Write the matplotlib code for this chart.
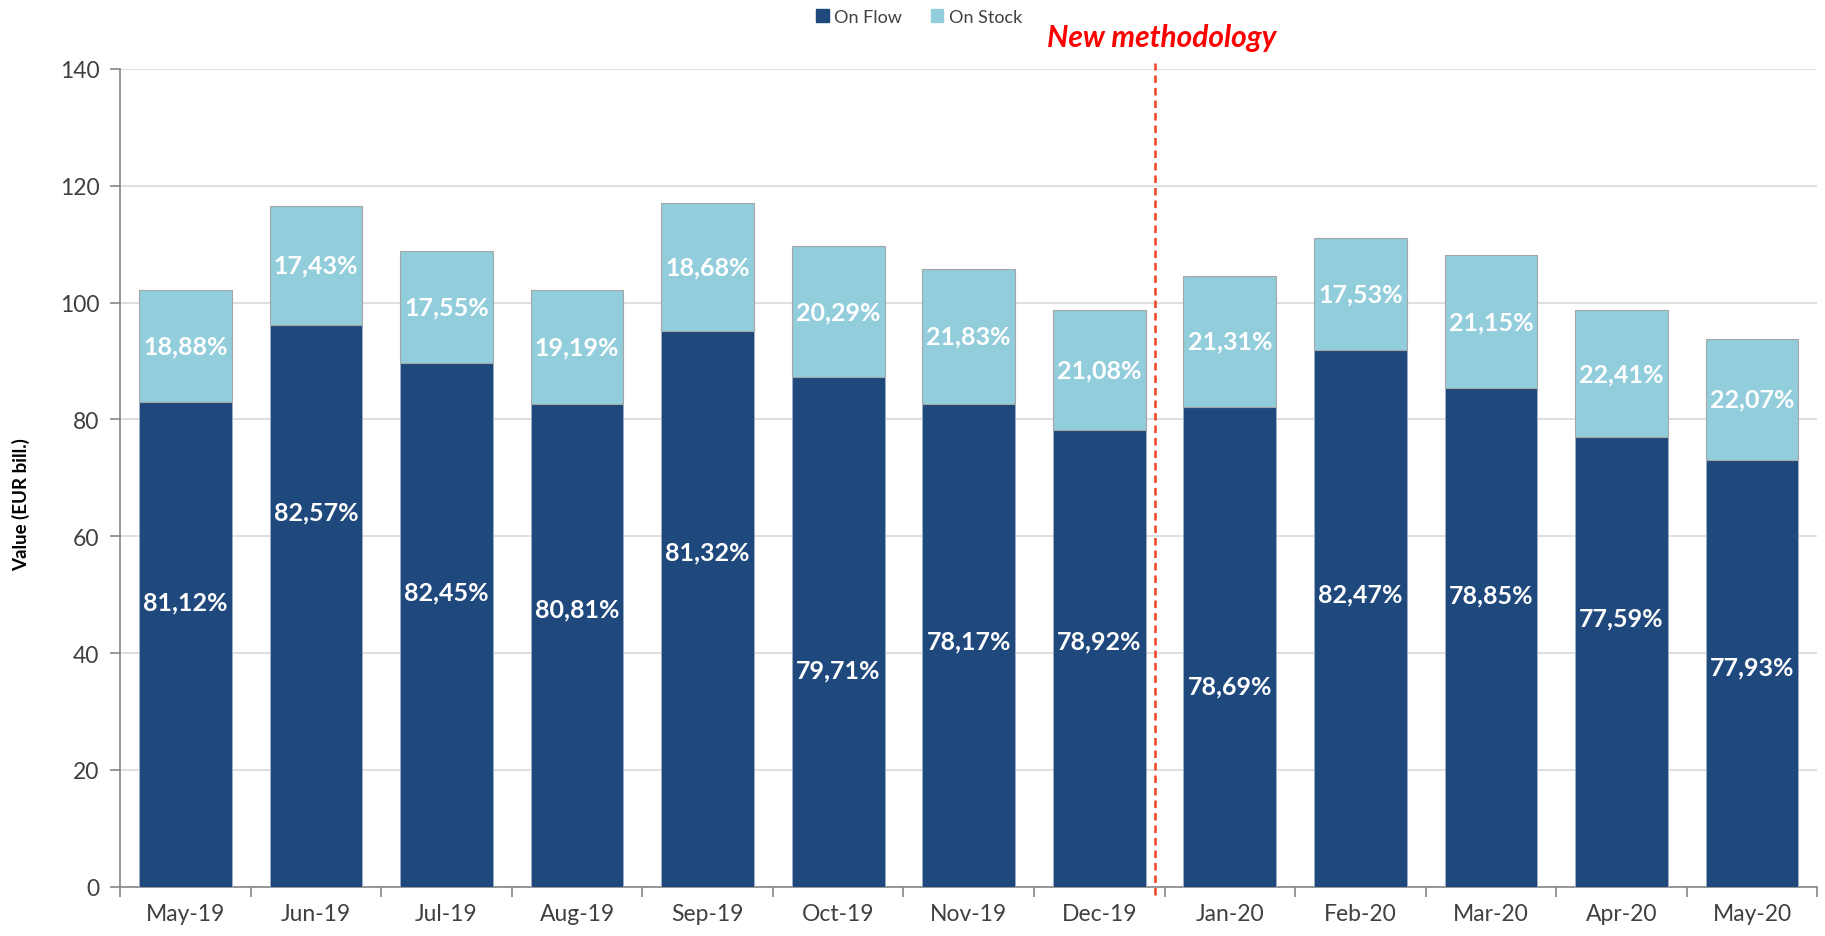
import matplotlib
matplotlib.use("Agg")
import matplotlib.pyplot as plt
from matplotlib.patches import Patch
import numpy as np

# ---- data ----
months = ["May-19", "Jun-19", "Jul-19", "Aug-19", "Sep-19", "Oct-19", "Nov-19",
          "Dec-19", "Jan-20", "Feb-20", "Mar-20", "Apr-20", "May-20"]
on_flow = [82.9, 96.2, 89.6, 82.7, 95.2, 87.3, 82.7, 78.1, 82.1, 91.8, 85.3, 76.9, 73.1]
on_total = [102.2, 116.5, 108.8, 102.2, 117.1, 109.6, 105.8, 98.8, 104.6, 111.0, 108.2, 98.8, 93.8]
on_stock = [t - f for t, f in zip(on_total, on_flow)]
flow_pct = ["81,12%", "82,57%", "82,45%", "80,81%", "81,32%", "79,71%", "78,17%",
            "78,92%", "78,69%", "82,47%", "78,85%", "77,59%", "77,93%"]
stock_pct = ["18,88%", "17,43%", "17,55%", "19,19%", "18,68%", "20,29%", "21,83%",
             "21,08%", "21,31%", "17,53%", "21,15%", "22,41%", "22,07%"]
# placement of the flow labels (as placed in the original chart)
flow_label_y = [48.8, 64.1, 50.4, 47.6, 57.4, 37.1, 42.0, 42.0, 34.3, 50.2, 50.0, 46.0, 37.6]

DARK = "#1F497D"
LIGHT = "#92CDDC"
TXT = "#404040"
FONT = "Lato"

fig = plt.figure(figsize=(18.25, 9.37), dpi=100)
ax = fig.add_axes([0.0658, 0.0525, 0.930, 0.873])

x = np.arange(len(months))
w = 0.71
ax.bar(x, on_flow, width=w, color=DARK, edgecolor="#9FB0C4", linewidth=0.6, zorder=3)
ax.bar(x, on_stock, bottom=on_flow, width=w, color=LIGHT, edgecolor="#A6A6A6",
       linewidth=0.8, zorder=3)

for i in range(len(months)):
    ax.text(x[i], flow_label_y[i], flow_pct[i], ha="center", va="center", color="white",
            fontsize=18, fontweight="bold", family=FONT, zorder=4)
    ax.text(x[i], on_flow[i] + on_stock[i] / 2, stock_pct[i], ha="center", va="center",
            color="white", fontsize=18, fontweight="bold", family=FONT, zorder=4)

ax.set_xlim(-0.5, len(months) - 0.5)
ax.set_ylim(0, 140)
ax.set_yticks(np.arange(0, 141, 20))
ax.yaxis.grid(True, color="#D9D9D9", linewidth=1.2, zorder=0)
ax.set_axisbelow(True)
for s in ["top", "right"]:
    ax.spines[s].set_visible(False)
for s in ["left", "bottom"]:
    ax.spines[s].set_color("#868686")
    ax.spines[s].set_linewidth(1.2)

ax.set_xticks(np.arange(-0.5, len(months), 1.0))
ax.set_xticklabels([])
ax.set_xticks(x, minor=True)
ax.set_xticklabels(months, minor=True, fontsize=16.5, color=TXT, family=FONT)
ax.tick_params(axis="x", which="major", length=7, color="#868686", width=1.2)
ax.tick_params(axis="x", which="minor", length=0, pad=12)
ax.tick_params(axis="y", length=7, color="#868686", width=1.2, labelsize=16.5,
               labelcolor=TXT, pad=8)
for lab in ax.get_yticklabels():
    lab.set_family(FONT)

ax.set_ylabel("Value (EUR bill.)", fontsize=13.5, fontweight="bold", family=FONT,
              color="black")
ax.yaxis.set_label_coords(-0.053, 0.469)

# methodology divider
xv = 7.43
ax.plot([xv, xv], [-1.4, 141], linestyle=(0, (3, 2)), color="#F04020", linewidth=1.8,
        clip_on=False, zorder=5)
fig.text(1162 / 1825, 1 - 38 / 937, "New methodology", color="#FF0000", fontsize=21.5,
         fontweight="bold", style="italic", family=FONT, ha="center", va="center")

handles = [Patch(facecolor=DARK, edgecolor=DARK), Patch(facecolor=LIGHT, edgecolor=LIGHT)]
leg = fig.legend(handles, ["On Flow", "On Stock"], loc="center", ncol=2,
                 bbox_to_anchor=(919 / 1825, 1 - 18 / 937), frameon=False,
                 prop={"family": FONT, "size": 13}, handlelength=0.7, handleheight=0.7,
                 handletextpad=0.3, columnspacing=1.6)
for t in leg.get_texts():
    t.set_color(TXT)

fig.savefig("out.png", dpi=100)
